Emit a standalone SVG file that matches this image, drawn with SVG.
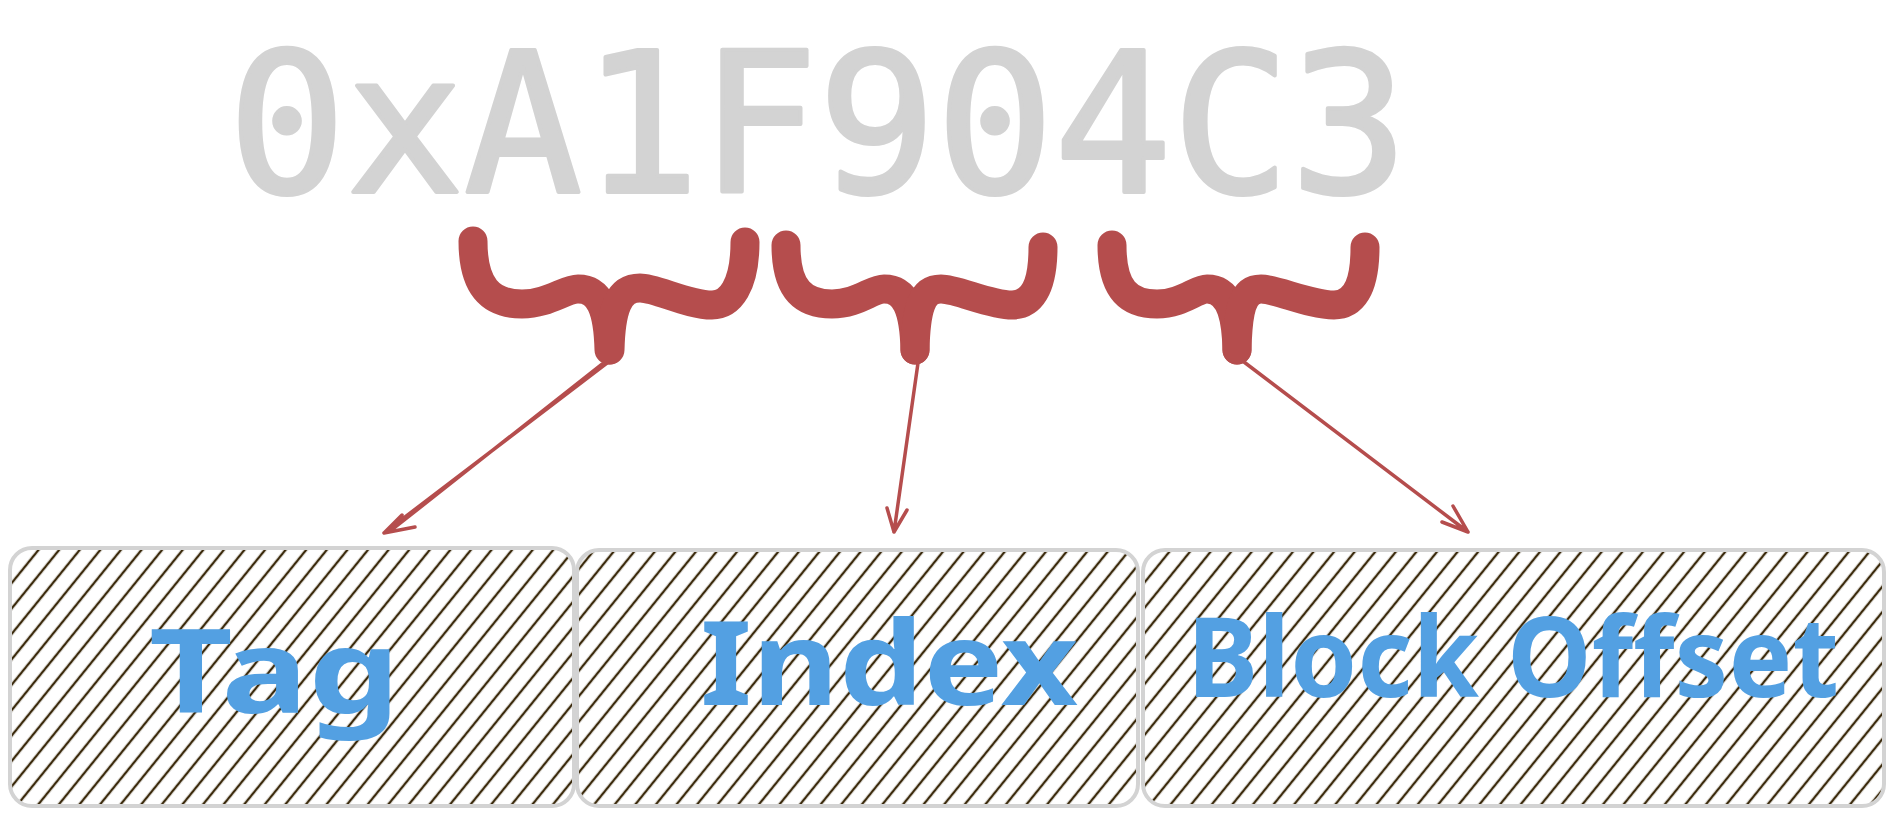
<svg xmlns="http://www.w3.org/2000/svg" width="1894" height="816" viewBox="0 0 1894 816">
  <style>
    .hex { font-family: "DejaVu Sans Mono", "Liberation Mono", monospace; font-size: 194px; fill: #d3d3d3; stroke: #d3d3d3; stroke-width: 4; stroke-linejoin: round; }
    .brace { fill: none; stroke: #b54d4d; stroke-width: 29; stroke-linecap: round; stroke-linejoin: round; }
    .arrow { fill: none; stroke: #b54d4d; stroke-width: 3.5; stroke-linecap: round; stroke-linejoin: round; }
    .box { stroke: #d3d3d3; stroke-width: 4; }
    .label { font-family: "Noto Sans", "Liberation Sans", sans-serif; font-weight: 700; font-size: 116px; fill: #53a0e2; }
  </style>
  <defs>
    <pattern id="hatch" patternUnits="userSpaceOnUse" width="16" height="16" patternTransform="rotate(39)">
      <line x1="8" y1="-2" x2="8" y2="18" stroke="#3b2a0c" stroke-width="2.4"/>
    </pattern>
  </defs>
  <rect width="1894" height="816" fill="#ffffff"/>

  <g id="address">
    <text class="hex" x="228" y="192" textLength="1180" lengthAdjust="spacingAndGlyphs">0xA1F904C3</text>
  </g>

  <g id="braces">
    <g id="brace-tag">
      <path class="brace" d="M473,241 C473,286 490,304 522,304 C548,304 565,289 578,289 C600,289 608,310 609,350"/>
      <path class="brace" d="M745,242 C745,286 730,305 712,305 C688,305 656,288 640,288 C618,288 611,310 610,350"/>
    </g>
    <g id="brace-index">
      <path class="brace" d="M786,245 C786,289 803,304 832,304 C857,304 872,289 884,289 C906,289 914,310 915,350"/>
      <path class="brace" d="M1043,247 C1043,290 1030,305 1012,305 C990,305 957,289 941,289 C921,289 916,310 915,350"/>
    </g>
    <g id="brace-offset">
      <path class="brace" d="M1112,245 C1112,289 1128,304 1157,304 C1182,304 1196,289 1207,289 C1228,289 1236,310 1237,350"/>
      <path class="brace" d="M1365,247 C1365,290 1352,305 1334,305 C1310,305 1276,289 1261,289 C1242,289 1238,310 1237,350"/>
    </g>
  </g>

  <g id="connectors">
    <path class="arrow" d="M607,363 L384,533 M602,364 L389,532 M384,533 L402,515 M384,533 L415,527"/>
    <path class="arrow" d="M918,363 L894,532 M894,532 L887,508 M894,532 L907,510"/>
    <path class="arrow" d="M1244,362 L1468,532 M1468,532 L1442,522 M1468,532 L1453,506"/>
  </g>

  <g id="tag">
    <rect class="box" x="10" y="548" width="564" height="258" rx="22" fill="url(#hatch)"/>
    <text class="label" x="149" y="713" textLength="251" lengthAdjust="spacingAndGlyphs">Tag</text>
  </g>
  <g id="index">
    <rect class="box" x="577" y="550" width="561" height="256" rx="22" fill="url(#hatch)"/>
    <text class="label" x="700" y="705" textLength="378" lengthAdjust="spacingAndGlyphs">Index</text>
  </g>
  <g id="block-offset">
    <rect class="box" x="1143" y="550" width="741" height="256" rx="22" fill="url(#hatch)"/>
    <text class="label" x="1187" y="697" textLength="652" lengthAdjust="spacingAndGlyphs" style="font-size:112px">Block Offset</text>
  </g>
</svg>
